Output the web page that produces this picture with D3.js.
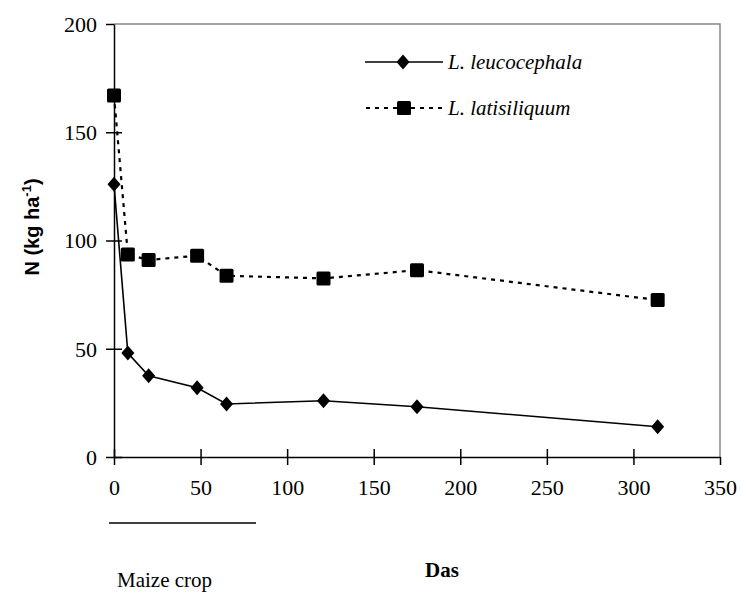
<!DOCTYPE html>
<html>
<head>
<meta charset="utf-8">
<script src="https://cdn.jsdelivr.net/npm/d3@7"></script>
<style>
  body { margin: 0; background: #fff; }
  svg { display: block; }
  .serif { font-family: 'Times New Roman', 'Liberation Serif', Tinos, 'DejaVu Serif', 'Noto Serif', FreeSerif, serif; }
</style>
</head>
<body>
<div id="chart"></div>
<script>
// days after sowing
var days = [0, 8, 20, 48, 65, 121, 175, 314];
var leucocephala = [126, 48, 37.5, 32, 24.5, 26, 23.2, 14];
var latisiliquum = [167, 93.5, 91, 93, 83.7, 82.5, 86.3, 72.5];
var seriesNames = ['L. leucocephala', 'L. latisiliquum'];
var xTicks = [0, 50, 100, 150, 200, 250, 300, 350];
var yTicks = [0, 50, 100, 150, 200];

var width = 741, height = 592;
var mLeft = 114, mRight = 720, mTop = 24, mBottom = 457;

var svg = d3.select('#chart').append('svg')
    .attr('width', width)
    .attr('height', height);

var x = d3.scaleLinear().domain([0, 350]).range([mLeft, mRight]);
var y = d3.scaleLinear().domain([0, 200]).range([mBottom, mTop]);

// grey frame top + right
svg.append('path')
    .attr('d', 'M' + mLeft + ',' + mTop + 'H' + mRight + 'V' + mBottom)
    .attr('fill', 'none')
    .attr('stroke', '#888')
    .attr('stroke-width', 1.5);

// x axis
var xAxis = svg.append('g')
    .attr('transform', 'translate(0,' + mBottom + ')')
    .call(d3.axisBottom(x).tickValues(xTicks).tickSize(8).tickSizeOuter(0));
xAxis.selectAll('.tick line').attr('y1', -8).attr('y2', 8);
xAxis.selectAll('text')
    .attr('class', 'serif')
    .attr('y', 38)
    .attr('dy', 0)
    .attr('font-size', 22)
    .attr('fill', '#000');

// y axis
var yAxis = svg.append('g')
    .attr('transform', 'translate(' + mLeft + ',0)')
    .call(d3.axisLeft(y).tickValues(yTicks).tickSize(8).tickSizeOuter(0));
yAxis.selectAll('.tick line').attr('x1', -8).attr('x2', 8);
yAxis.selectAll('text')
    .attr('class', 'serif')
    .attr('x', -17)
    .attr('dy', '0.34em')
    .attr('font-size', 22)
    .attr('fill', '#000');

xAxis.attr('font-family', null);
yAxis.attr('font-family', null);

svg.selectAll('.domain, .tick line').attr('stroke', '#000').attr('stroke-width', 1.5);
xAxis.selectAll('.tick line').filter(function(d){ return d == 350; }).attr('y1', 0);
yAxis.selectAll('.tick line').filter(function(d){ return d == 200; }).attr('x2', 0);

var line = d3.line()
    .x(function(d, i){ return x(days[i]); })
    .y(function(d){ return y(d); });

// L. latisiliquum - dotted with squares
svg.append('path')
    .datum(latisiliquum)
    .attr('d', line)
    .attr('fill', 'none')
    .attr('stroke', '#000')
    .attr('stroke-width', 2.2)
    .attr('stroke-dasharray', '4,5');

svg.selectAll('.sq')
    .data(latisiliquum)
    .enter().append('rect')
    .attr('class', 'sq')
    .attr('x', function(d, i){ return x(days[i]) - 7; })
    .attr('y', function(d){ return y(d) - 7; })
    .attr('width', 14)
    .attr('height', 14)
    .attr('rx', 1.5)
    .attr('fill', '#000');

// L. leucocephala - solid with diamonds
svg.append('path')
    .datum(leucocephala)
    .attr('d', line)
    .attr('fill', 'none')
    .attr('stroke', '#000')
    .attr('stroke-width', 1.6);

var diamond = 'M0,-7.5L6.5,0L0,7.5L-6.5,0Z';
svg.selectAll('.dm')
    .data(leucocephala)
    .enter().append('path')
    .attr('class', 'dm')
    .attr('d', diamond)
    .attr('transform', function(d, i){ return 'translate(' + x(days[i]) + ',' + y(d) + ')'; })
    .attr('fill', '#000');

// legend
var lg = svg.append('g');
lg.append('line').attr('x1', 365).attr('x2', 443).attr('y1', 62).attr('y2', 62)
    .attr('stroke', '#000').attr('stroke-width', 1.6);
lg.append('path').attr('d', diamond).attr('transform', 'translate(403,62)').attr('fill', '#000');
lg.append('line').attr('x1', 366).attr('x2', 443).attr('y1', 108).attr('y2', 108)
    .attr('stroke', '#000').attr('stroke-width', 2.2).attr('stroke-dasharray', '4,5');
lg.append('rect').attr('x', 397).attr('y', 101).attr('width', 14).attr('height', 14)
    .attr('rx', 1.5).attr('fill', '#000');
lg.selectAll('text')
    .data(seriesNames)
    .enter().append('text')
    .attr('class', 'serif')
    .attr('x', 448)
    .attr('y', function(d, i){ return 69 + i * 46; })
    .attr('font-style', 'italic')
    .attr('font-size', 21)
    .text(function(d){ return d; });

// axis titles
svg.append('text')
    .attr('transform', 'translate(39,227) rotate(-90)')
    .attr('text-anchor', 'middle')
    .attr('font-family', "'Liberation Sans', Arial, sans-serif")
    .attr('font-weight', 'bold')
    .attr('font-size', 20)
    .html('N (kg ha<tspan dy="-8" font-size="13">-1</tspan><tspan dy="8">)</tspan>');

svg.append('text')
    .attr('class', 'serif')
    .attr('x', 442)
    .attr('y', 577)
    .attr('text-anchor', 'middle')
    .attr('font-weight', 'bold')
    .attr('font-size', 21)
    .text('Das');

// maize crop period
svg.append('line')
    .attr('x1', 109).attr('x2', 256).attr('y1', 523).attr('y2', 523)
    .attr('stroke', '#000').attr('stroke-width', 1.6);
svg.append('text')
    .attr('class', 'serif')
    .attr('x', 117)
    .attr('y', 587)
    .attr('font-size', 21)
    .text('Maize crop');
</script>
</body>
</html>
